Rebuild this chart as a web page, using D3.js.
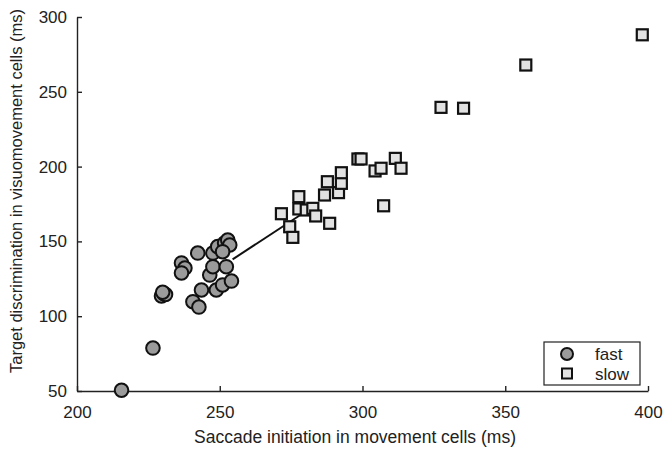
<!DOCTYPE html>
<html>
<head>
<meta charset="utf-8">
<script src="https://cdn.jsdelivr.net/npm/d3@7"></script>
<style>
  body { margin: 0; background: #fff; }
  svg { font-family: "Liberation Sans", Arial, sans-serif; }
  .axis text { font-size: 17px; fill: #222; }
  .axis path, .axis line { stroke: #222; stroke-width: 1.4; }
</style>
</head>
<body>
<svg width="663" height="453"></svg>
<script>
// fast group (circles)
var fastX = [215.6, 226.6, 229.6, 230.5, 231, 230, 236.6, 237.8, 236.6, 242.3, 240.6, 242.7,
             243.6, 246.5, 247.6, 248.8, 251, 254.1, 252.3, 247.6, 249.3, 251.7, 252.8, 253.5, 251];
var fastY = [50.5, 78.7, 113.5, 115, 114.5, 116, 135.6, 132.2, 128.9, 142.2, 109.7, 106.1,
             117.5, 127.5, 133.1, 117.5, 120.9, 123.5, 133.1, 142.2, 146.5, 148.9, 150.9, 147.6, 143.1];

// slow group (squares)
var slowX = [271.6, 274.5, 275.6, 277.7, 277.7, 280.3, 282.6, 283.6, 288.5, 286.7, 287.7, 291.6,
             292.6, 292.6, 298.4, 299.5, 304.4, 306.5, 311.5, 313.5, 307.4, 327.5, 335.4, 357.2, 398];
var slowY = [168.5, 159.8, 152.7, 179.9, 171.7, 171, 172.1, 167, 162.1, 181, 189.9, 182.6,
             188.8, 195.9, 205.1, 205.1, 197.1, 198.9, 205.5, 198.9, 173.8, 239.6, 239, 267.9, 288.1];

// connecting line
var lineX = [254.5, 278.5];
var lineY = [138, 168];

var xTicks = [200, 250, 300, 350, 400];
var yTicks = [50, 100, 150, 200, 250, 300];

var svg = d3.select("svg"),
    margin = {top: 17, right: 15, bottom: 62, left: 77},
    width = 663 - margin.left - margin.right,
    height = 453 - margin.top - margin.bottom,
    g = svg.append("g").attr("transform", "translate(" + margin.left + "," + margin.top + ")");

var x = d3.scaleLinear().domain([200, 400]).range([0, width]);
var y = d3.scaleLinear().domain([50, 300]).range([height, 0]);

// axes, ticks pointing inward
g.append("g")
    .attr("class", "axis")
    .attr("transform", "translate(0," + height + ")")
    .call(d3.axisBottom(x).tickValues(xTicks).tickSizeInner(-5).tickSizeOuter(0).tickPadding(15));

g.append("g")
    .attr("class", "axis")
    .call(d3.axisLeft(y).tickValues(yTicks).tickSizeInner(-5).tickSizeOuter(0).tickPadding(10));

// axis titles
svg.append("text")
    .attr("x", 355)
    .attr("y", 443)
    .attr("text-anchor", "middle")
    .attr("font-size", 17.5)
    .attr("fill", "#222")
    .text("Saccade initiation in movement cells (ms)");

svg.append("text")
    .attr("transform", "translate(22,191) rotate(-90)")
    .attr("text-anchor", "middle")
    .attr("font-size", 16.5)
    .attr("fill", "#222")
    .text("Target discrimination in visuomovement cells (ms)");

var fast = fastX.map(function(d, i) { return {x: d, y: fastY[i]}; });
var slow = slowX.map(function(d, i) { return {x: d, y: slowY[i]}; });

g.selectAll("circle.fast")
    .data(fast)
    .enter().append("circle")
    .attr("class", "fast")
    .attr("cx", function(d) { return x(d.x); })
    .attr("cy", function(d) { return y(d.y); })
    .attr("r", 6.8)
    .attr("fill", "#9b9b9b")
    .attr("stroke", "#111")
    .attr("stroke-width", 2);

g.append("path")
    .datum(lineX.map(function(d, i) { return [d, lineY[i]]; }))
    .attr("fill", "none")
    .attr("stroke", "#111")
    .attr("stroke-width", 2)
    .attr("d", d3.line().x(function(d) { return x(d[0]); }).y(function(d) { return y(d[1]); }));

var s = 11;
g.selectAll("rect.slow")
    .data(slow)
    .enter().append("rect")
    .attr("class", "slow")
    .attr("x", function(d) { return x(d.x) - s / 2; })
    .attr("y", function(d) { return y(d.y) - s / 2; })
    .attr("width", s)
    .attr("height", s)
    .attr("fill", "#e2e2e2")
    .attr("stroke", "#111")
    .attr("stroke-width", 2.2);

/* --------- legend --------- */
var legend = svg.append("g").attr("transform", "translate(544,342)");
legend.append("rect")
    .attr("width", 96).attr("height", 43)
    .attr("fill", "#fff").attr("stroke", "#222").attr("stroke-width", 1.2);
legend.append("circle")
    .attr("cx", 23).attr("cy", 12).attr("r", 6)
    .attr("fill", "#9b9b9b").attr("stroke", "#111").attr("stroke-width", 2);
legend.append("rect")
    .attr("x", 18).attr("y", 26.5).attr("width", 10).attr("height", 10)
    .attr("fill", "#e2e2e2").attr("stroke", "#111").attr("stroke-width", 2);
legend.append("text").attr("x", 51).attr("y", 18).attr("font-size", 17).attr("fill", "#222").text("fast");
legend.append("text").attr("x", 51).attr("y", 37.5).attr("font-size", 17).attr("fill", "#222").text("slow");
</script>
</body>
</html>
